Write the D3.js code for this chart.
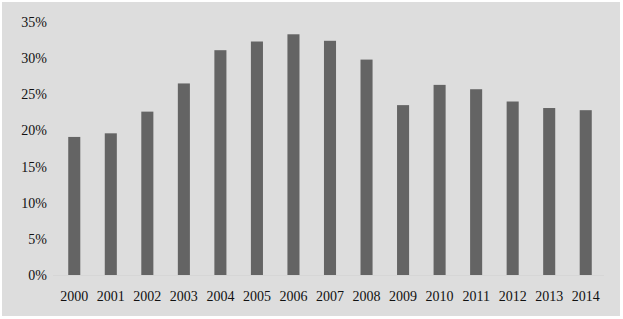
<!DOCTYPE html>
<html>
<head>
<meta charset="utf-8">
<script src="https://cdn.jsdelivr.net/npm/d3@7"></script>
<style>
  body { margin: 0; background: #fff; }
  text { font-family: "Liberation Serif", "DejaVu Serif", serif; }
</style>
</head>
<body>
<div id="chart"></div>
<script>
// data
const years = ['2000', '2001', '2002', '2003', '2004', '2005', '2006', '2007',
  '2008', '2009', '2010', '2011', '2012', '2013', '2014']
const shares = [19.1, 19.6, 22.6, 26.5, 31.1, 32.3, 33.3, 32.4,
  29.8, 23.5, 26.3, 25.7, 24.0, 23.1, 22.8]
const yTicks = [0, 5, 10, 15, 20, 25, 30, 35]

const width = 623
const height = 319
const margin = { top: 22, right: 19, bottom: 44, left: 56 }

const svg = d3.select('#chart')
  .append('svg')
  .attr('width', width)
  .attr('height', height)

// panel background
svg.append('rect')
  .attr('x', 2)
  .attr('y', 2)
  .attr('width', 618)
  .attr('height', 314)
  .attr('fill', '#dddddd')

const x = d3.scaleBand()
  .domain(years)
  .range([margin.left, width - margin.right])
  .paddingInner(0.67)
  .paddingOuter(0.335)

const y = d3.scaleLinear()
  .domain([0, 35])
  .range([height - margin.bottom, margin.top])

// baseline
svg.append('line')
  .attr('x1', 53)
  .attr('x2', 604)
  .attr('y1', y(0) + 0.5)
  .attr('y2', y(0) + 0.5)
  .attr('stroke', '#d6d6d6')

// bars
svg.append('g')
  .selectAll('rect')
  .data(years)
  .join('rect')
  .attr('x', d => x(d))
  .attr('y', (d, i) => y(shares[i]))
  .attr('width', x.bandwidth())
  .attr('height', (d, i) => y(0) - y(shares[i]))
  .attr('fill', '#646464')

// y axis labels
const yAxis = d3.axisLeft(y)
  .tickValues(yTicks)
  .tickFormat(d => d + '%')
  .tickSize(0)
  .tickPadding(0)

svg.append('g')
  .attr('transform', `translate(${47},0)`)
  .call(yAxis)
  .call(g => g.select('.domain').remove())
  .call(g => g.selectAll('text')
    .attr('font-size', 14)
    .attr('font-family', '"Liberation Serif", serif')
    .attr('fill', '#111'))

// x axis labels
const xAxis = d3.axisBottom(x).tickSize(0).tickPadding(0)

svg.append('g')
  .attr('transform', `translate(0,${291})`)
  .call(xAxis)
  .call(g => g.select('.domain').remove())
  .call(g => g.selectAll('text')
    .attr('font-size', 14)
    .attr('font-family', '"Liberation Serif", serif')
    .attr('fill', '#111'))
</script>
</body>
</html>
